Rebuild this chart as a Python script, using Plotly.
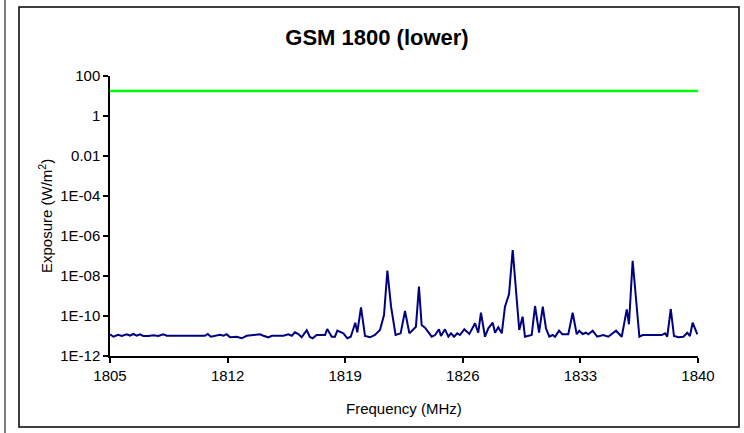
import plotly.graph_objects as go

# Frequency (MHz) of measured points
freq_mhz = [
    1805.0, 1805.2, 1805.49, 1805.7, 1806.0, 1806.19, 1806.39, 1806.59, 1806.79, 1806.98,
    1807.28, 1807.58, 1807.88, 1808.17, 1808.38, 1810.65, 1810.82, 1811.0, 1811.55, 1811.74,
    1811.95, 1812.14, 1812.54, 1812.84, 1813.14, 1813.93, 1814.13, 1814.42, 1814.63, 1815.32,
    1815.61, 1815.82, 1816.01, 1816.21, 1816.41, 1816.71, 1816.9, 1817.06, 1817.3, 1817.8,
    1817.93, 1818.2, 1818.39, 1818.53, 1818.89, 1819.13, 1819.33, 1819.6, 1819.72, 1819.94,
    1820.18, 1820.48, 1820.77, 1821.07, 1821.31, 1821.51, 1821.73, 1822.0, 1822.3, 1822.56,
    1822.82, 1823.05, 1823.21, 1823.39, 1823.55, 1823.75, 1823.95, 1824.15, 1824.35, 1824.58,
    1824.7, 1824.94, 1825.14, 1825.3, 1825.48, 1825.67, 1825.83, 1826.09, 1826.39, 1826.73,
    1826.92, 1827.08, 1827.32, 1827.52, 1827.78, 1827.92, 1828.11, 1828.32, 1828.51, 1828.75,
    1828.97, 1829.36, 1829.56, 1829.7, 1830.1, 1830.3, 1830.54, 1830.76, 1830.95, 1831.15,
    1831.35, 1831.49, 1831.73, 1831.92, 1832.28, 1832.54, 1832.78, 1832.93, 1833.14, 1833.33,
    1833.47, 1833.73, 1834.0, 1834.36, 1834.66, 1835.12, 1835.46, 1835.76, 1835.89, 1836.11,
    1836.51, 1836.71, 1837.84, 1838.04, 1838.17, 1838.38, 1838.57, 1838.83, 1839.13, 1839.36,
    1839.52, 1839.68, 1839.96,
]

# Measured exposure (W/m^2)
exposure = [
    1.22e-11, 9.2e-12, 1.16e-11, 1.0e-11, 1.22e-11, 1.03e-11, 1.26e-11, 1.03e-11, 1.22e-11, 1.0e-11,
    1.0e-11, 1.08e-11, 1.0e-11, 1.22e-11, 1.03e-11, 1.03e-11, 1.26e-11, 9.2e-12, 1.16e-11, 1.03e-11,
    1.22e-11, 8.6e-12, 9.2e-12, 7.7e-12, 1.03e-11, 1.22e-11, 1.03e-11, 8.6e-12, 1.03e-11, 1.03e-11,
    1.22e-11, 1.03e-11, 1.53e-11, 1.26e-11, 8.6e-12, 1.93e-11, 9.0e-12, 7.7e-12, 1.12e-11, 1.12e-11,
    2.24e-11, 9.2e-12, 9.2e-12, 1.84e-11, 1.36e-11, 7.7e-12, 9.2e-12, 4.6e-11, 1.53e-11, 2.72e-10,
    1.0e-11, 8.6e-12, 1.12e-11, 2.0e-11, 1.12e-10, 1.84e-8, 2.92e-10, 1.12e-11, 1.36e-11, 1.78e-10,
    1.36e-11, 2.16e-11, 2.92e-11, 2.92e-9, 3.55e-11, 2.6e-11, 1.64e-11, 9.2e-12, 1.12e-11, 2.16e-11,
    1.0e-11, 2.16e-11, 9.2e-12, 1.36e-11, 9.2e-12, 1.36e-11, 1.12e-11, 2.16e-11, 1.26e-11, 4.3e-11,
    1.46e-11, 1.46e-10, 9.2e-12, 2.43e-11, 4.6e-11, 1.46e-11, 2.72e-11, 1.36e-11, 2.92e-10, 1.22e-9,
    2.0e-7, 2.0e-11, 9.2e-11, 9.2e-12, 1.12e-11, 3.16e-10, 1.46e-11, 2.92e-10, 2.43e-11, 9.2e-12,
    1.12e-11, 9.2e-12, 1.84e-11, 1.22e-11, 1.22e-11, 1.46e-10, 1.22e-11, 1.84e-11, 1.26e-11, 1.46e-11,
    1.22e-11, 1.84e-11, 9.2e-12, 1.12e-11, 9.2e-12, 1.84e-11, 9.2e-12, 2.16e-10, 3.85e-11, 5.8e-8,
    9.2e-12, 1.12e-11, 1.12e-11, 1.36e-11, 9.2e-12, 2.24e-10, 1.0e-11, 8.6e-12, 9.2e-12, 1.46e-11,
    1.0e-11, 4.6e-11, 1.22e-11,
]

# Reference level (W/m^2), drawn across the band
limit_freq = [1805, 1840]
limit_value = [18, 18]

x_tick_vals = [1805, 1812, 1819, 1826, 1833, 1840]
y_tick_vals = [100, 1, 0.01, 1e-4, 1e-6, 1e-8, 1e-10, 1e-12]
y_tick_text = ["100", "1", "0.01", "1E-04", "1E-06", "1E-08", "1E-10", "1E-12"]

FONT = "Liberation Sans, Arial, sans-serif"

fig = go.Figure()
fig.add_trace(go.Scatter(x=limit_freq, y=limit_value, mode="lines",
                         line=dict(color="#00FF00", width=2.5), showlegend=False))
fig.add_trace(go.Scatter(x=freq_mhz, y=exposure, mode="lines",
                         line=dict(color="#000080", width=2), showlegend=False))

W, H = 744, 433
L, R, T, B = 110, 46, 76, 77
pw, ph = W - L - R, H - T - B

def px(x):
    return (x - L) / pw

def py(y):
    return (H - B - y) / ph

fig.update_layout(
    width=W, height=H,
    margin=dict(l=L, r=R, t=T, b=B),
    paper_bgcolor="white", plot_bgcolor="white",
    font=dict(family=FONT, size=15, color="black"),
    title=dict(text="<b>GSM 1800 (lower)</b>", font=dict(family=FONT, size=22, color="black"),
               x=377 / W, xref="container", xanchor="center",
               y=1 - 37 / H, yref="container", yanchor="middle"),
    xaxis=dict(range=[1805, 1840], tickvals=x_tick_vals, showgrid=False, zeroline=False,
               showline=True, linecolor="black", linewidth=1.5,
               ticks="outside", ticklen=5, tickwidth=1.5, tickcolor="black",
               tickfont=dict(family=FONT, size=15)),
    yaxis=dict(type="log", range=[-12, 2], tickvals=y_tick_vals, ticktext=y_tick_text,
               showgrid=False, zeroline=False,
               showline=True, linecolor="black", linewidth=1.5,
               ticks="outside", ticklen=5, tickwidth=1.5, tickcolor="black",
               tickfont=dict(family=FONT, size=15)),
    annotations=[
        dict(text="Frequency (MHz)", x=px(404), y=py(408), xref="paper", yref="paper",
             showarrow=False, xanchor="center", yanchor="middle",
             font=dict(family=FONT, size=15)),
        dict(text="Exposure (W/m<sup>2</sup>)", x=px(45), y=py(216), xref="paper", yref="paper",
             showarrow=False, xanchor="center", yanchor="middle", textangle=-90,
             font=dict(family=FONT, size=15)),
    ],
    shapes=[
        dict(type="rect", xref="paper", yref="paper", x0=px(19), x1=px(739), y0=py(427), y1=py(7),
             line=dict(color="black", width=1.5), fillcolor="rgba(0,0,0,0)", layer="below"),
        dict(type="line", xref="paper", yref="paper", x0=px(5), x1=px(5), y0=py(433), y1=py(0),
             line=dict(color="black", width=1)),
    ],
)

fig.write_html("out.html", config={"displayModeBar": False},
               post_script="document.body.style.margin='0';document.body.style.overflow='hidden';")
